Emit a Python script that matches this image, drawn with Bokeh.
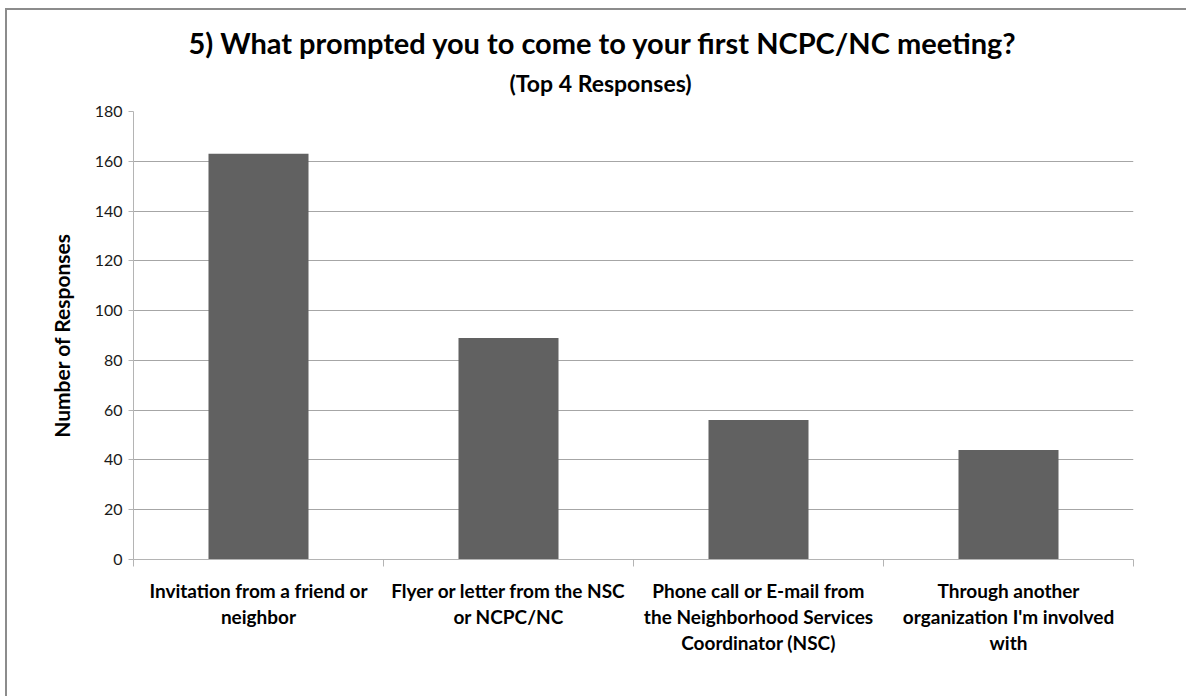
from bokeh.plotting import figure
from bokeh.models import Range1d, FixedTicker, Title
from bokeh.embed import file_html
from bokeh.resources import INLINE

title_text = "5) What prompted you to come to your first NCPC/NC meeting?"
subtitle_text = "(Top 4 Responses)"
y_label = "Number of Responses"
categories = [
    "Invitation from a friend or\nneighbor",
    "Flyer or letter from the NSC\nor NCPC/NC",
    "Phone call or E-mail from\nthe Neighborhood Services\nCoordinator (NSC)",
    "Through another\norganization I'm involved\nwith",
]
values = [163, 89, 56, 44]
y_ticks = [0, 20, 40, 60, 80, 100, 120, 140, 160, 180]

FONT = "Lato"
BAR = "#616161"
GRID = "#a6a6a6"
AXIS = "#b4b4b4"

n = len(categories)
xs = [i + 0.5 for i in range(n)]

p = figure(width=1181, height=688, output_backend="svg", toolbar_location=None,
           x_range=Range1d(0, n), y_range=Range1d(0, 180),
           min_border_left=126, min_border_right=55, min_border_top=101, min_border_bottom=139)
p.styles = {"border-left": "2px solid #8c8c8c", "border-top": "2px solid #8c8c8c",
            "margin-left": "5px", "margin-top": "8px"}
p.outline_line_color = None
p.background_fill_color = "white"
p.border_fill_color = "white"

p.vbar(x=xs, top=values, width=0.4, bottom=0, fill_color=BAR, line_color=None)

# y axis
yax = p.yaxis[0]
yax.ticker = FixedTicker(ticks=y_ticks)
yax.axis_line_color = AXIS
yax.major_tick_line_color = AXIS
yax.major_tick_out = 5
yax.major_tick_in = 0
yax.minor_tick_line_color = None
yax.major_label_text_font = FONT
yax.major_label_text_font_size = "16px"
yax.major_label_text_color = "#1a1a1a"
yax.major_label_standoff = 6
yax.axis_label = y_label
yax.axis_label_text_font = FONT
yax.axis_label_text_font_style = "bold"
yax.axis_label_text_font_size = "21px"
yax.axis_label_text_color = "#000000"
yax.axis_label_standoff = 18

# x axis: labels at centres, ticks at boundaries
xax = p.xaxis[0]
xax.ticker = FixedTicker(ticks=xs, minor_ticks=list(range(n + 1)))
xax.major_label_overrides = {x: c for x, c in zip(xs, categories)}
xax.axis_line_color = AXIS
xax.major_tick_line_color = None
xax.minor_tick_line_color = AXIS
xax.minor_tick_out = 7
xax.minor_tick_in = 0
xax.major_label_text_font = FONT
xax.major_label_text_font_style = "bold"
xax.major_label_text_font_size = "19px"
xax.major_label_text_color = "#000000"
xax.major_label_text_line_height = 1.15
xax.major_label_standoff = 12

p.xgrid.grid_line_color = None
p.ygrid.ticker = FixedTicker(ticks=y_ticks)
p.ygrid.grid_line_color = GRID
p.ygrid.grid_line_width = 1

# spacer between frame and subtitle, then subtitle, then main title
p.add_layout(Title(text=" ", text_font=FONT, text_font_size="11px", standoff=0), "above")
p.add_layout(Title(text=subtitle_text, align="left", offset=376, text_font=FONT,
                   text_font_style="bold", text_font_size="23px", text_color="#000000",
                   text_line_height=1.5, standoff=0), "above")
p.title.text = title_text
p.title.align = "left"
p.title.offset = 55
p.title.text_font = FONT
p.title.text_font_style = "bold"
p.title.text_font_size = "29px"
p.title.text_color = "#000000"
p.title.standoff = 14

open("out.html", "w").write(file_html(p, INLINE))
